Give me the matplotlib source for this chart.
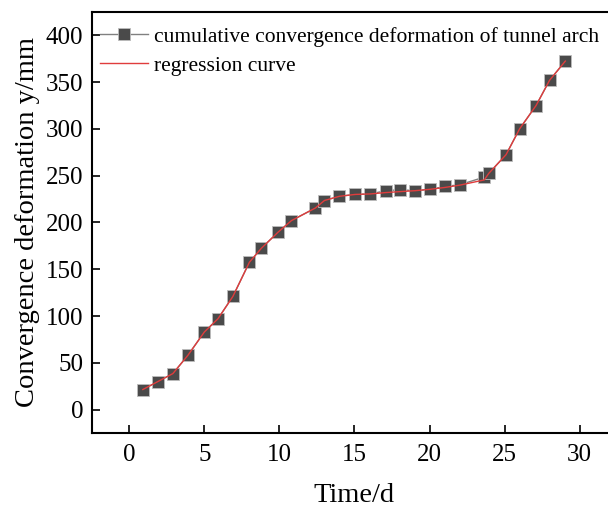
import numpy as np
import matplotlib.pyplot as plt

plt.rcParams['font.family'] = ['Liberation Serif', 'DejaVu Serif']

# donnees
temps = [0.9, 1.9, 2.9, 3.9, 5.0, 5.9, 6.9, 8.0, 8.8, 9.9, 10.8, 12.4, 13.0, 14.0,
         15.05, 16.05, 17.1, 18.05, 19.05, 20.05, 21.05, 22.05, 23.65, 23.95,
         25.1, 26.0, 27.1, 28.0, 29.05]
deformation = [21.5, 30, 38.5, 58, 83, 97, 121, 157.5, 172.5, 189.5, 202, 215.5, 223.5, 228,
               230, 230.5, 234, 235, 234, 235.5, 238.5, 240.5, 248.5, 252.5,
               272.5, 300, 325, 352, 372.5]
regression = [21.5, 30, 38.5, 58, 83, 97, 121, 157.5, 172.5, 189.5, 202, 215.5, 223.5, 228,
              230, 230.5, 232, 233, 234, 235.5, 237.5, 240, 245.5, 252.5,
              272.5, 300, 325, 352, 372.5]

fig = plt.figure(figsize=(6.08, 5.11), dpi=100)
ax = fig.add_axes([0.151, 0.1526, 0.864, 0.824])

ax.plot(temps, deformation, '-', color='#808080', lw=1.0, marker='s', markersize=8,
        markerfacecolor='#4a4a4a', markeredgecolor='#bdbdbd', markeredgewidth=0.6,
        label='cumulative convergence deformation of tunnel arch')
ax.plot(temps, regression, '-', color='#e03c3c', lw=1.0, label='regression curve')

ax.set_xlim(-2.5, 32.5)
ax.set_ylim(-25, 425)
ax.set_xticks(np.arange(0, 31, 5))
ax.set_yticks(np.arange(0, 401, 50))
ax.tick_params(direction='in', length=6, width=1.2, labelsize=18)
ax.tick_params(axis='x', pad=8)
ax.tick_params(axis='y', pad=6)
for s in ax.spines.values():
    s.set_linewidth(1.5)

ax.set_xlabel('Time/d', fontsize=20.5, labelpad=12)
ax.set_ylabel('Convergence deformation y/mm', fontsize=20.5, labelpad=4)

ax.legend(loc='upper left', frameon=False, fontsize=15.5, handlelength=2.2,
          handletextpad=0.3, borderaxespad=0.0, labelspacing=0.4,
          bbox_to_anchor=(0.0, 0.985))

fig.savefig('out.png', dpi=100)
